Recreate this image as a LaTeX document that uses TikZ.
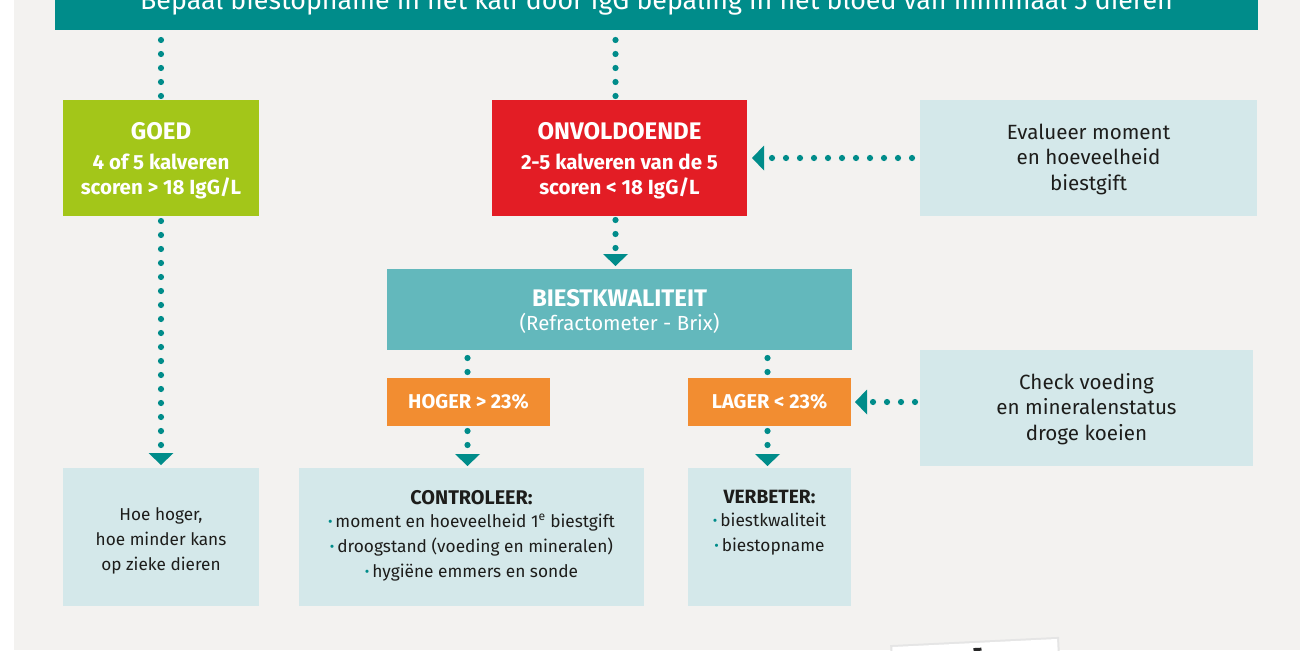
\documentclass[tikz,border=0pt]{standalone}
\usepackage{fontspec}
\setmainfont{Fira Sans}
\usetikzlibrary{arrows.meta,calc}
\definecolor{bg}{HTML}{F3F2F0}
\definecolor{tealdark}{HTML}{008C8A}
\definecolor{goedgreen}{HTML}{A3C619}
\definecolor{onvred}{HTML}{E31D25}
\definecolor{lightbox}{HTML}{D4E8EA}
\definecolor{midteal}{HTML}{63B8BC}
\definecolor{orangebox}{HTML}{F28D31}
\definecolor{darktext}{HTML}{1D1D1B}
\newcommand{\mybullet}{{\color{tealdark}\raisebox{0.5pt}{\scalebox{0.8}{•}}}\,}
\begin{document}
\begin{tikzpicture}[x=1pt,y=-1pt,
  box/.style={rectangle, inner sep=0pt, outer sep=0pt, align=center},
  headbox/.style={box, text=white, font=\bfseries\fontsize{20.5}{25}\selectfont},
  infobox/.style={box, fill=lightbox, text=darktext, font=\fontsize{20.6}{25.5}\selectfont},
  listtext/.style={box, anchor=north, text=darktext, font=\fontsize{17.3}{25}\selectfont},
  dotline/.style={draw=tealdark, line width=6.2pt, line cap=round, dash pattern=on 0pt off 14pt},
  arrowdots/.style={dotline, -{Triangle[length=12pt,width=25pt,line width=0pt]}}]
\useasboundingbox (0,0) rectangle (1300,650);
\fill[white] (0,0) rectangle (1300,650);
\fill[bg] (14,0) rectangle (1300,650);

% top bar
\node[box, fill=tealdark, minimum width=1203pt, minimum height=50pt] (bar) at (656.5,5) {};
\node[box, anchor=base, text=white, font=\fontsize{26.8}{30}\selectfont] (bartext) at (656.5,10)
  {Bepaal biestopname in het kalf door IgG bepaling in het bloed van minimaal 5 dieren};

% first row
\node[headbox, fill=goedgreen, minimum width=196pt, minimum height=116pt] (goed) at (161,158)
  {\rule{0pt}{23pt}{\fontsize{24}{25}\selectfont GOED}\\[5pt]4 of 5 kalveren\\scoren > 18 IgG/L};
\node[headbox, fill=onvred, minimum width=255pt, minimum height=116pt] (onv) at (619.5,158)
  {\rule{0pt}{23pt}{\fontsize{24}{25}\selectfont ONVOLDOENDE}\\[5pt]2-5 kalveren van de 5\\scoren < 18 IgG/L};
\node[infobox, minimum width=337pt, minimum height=116pt] (eval) at (1088.5,158)
  {\rule{0pt}{18pt}Evalueer moment\\en hoeveelheid\\biestgift};

% second row
\node[box, fill=midteal, text=white, minimum width=465pt, minimum height=81pt,
  font=\fontsize{20.4}{24}\selectfont] (biest) at (619.5,309.5)
  {\rule{0pt}{20pt}{\bfseries\fontsize{24}{24}\selectfont BIESTKWALITEIT}\\(Refractometer - Brix)};
\node[headbox, fill=orangebox, minimum width=163pt, minimum height=48pt, font=\bfseries\fontsize{20}{24}\selectfont] (hoger) at (468.5,402) {HOGER > 23\%};
\node[headbox, fill=orangebox, minimum width=163pt, minimum height=48pt, font=\bfseries\fontsize{20}{24}\selectfont] (lager) at (769.5,402) {LAGER < 23\%};
\node[infobox, minimum width=333pt, minimum height=116pt] (check) at (1086.5,408)
  {\rule{0pt}{18pt}Check voeding\\en mineralenstatus\\droge koeien};

% bottom row
\node[infobox, minimum width=196pt, minimum height=138pt, font=\fontsize{17.2}{25}\selectfont] (hoe) at (161,537)
  {\rule{0pt}{21pt}Hoe hoger,\\hoe minder kans\\op zieke dieren};
\node[box, fill=lightbox, minimum width=345pt, minimum height=138pt] (contr) at (471.5,537) {};
\node[box, fill=lightbox, minimum width=163pt, minimum height=138pt] (verb) at (769.5,537) {};
\node[listtext] (contrtext) at ($(contr.north)+(0,22)$)
  {{\bfseries\fontsize{19.8}{25}\selectfont CONTROLEER:}\\[-2pt]\mybullet moment en hoeveelheid 1\textsuperscript{e} biestgift\\
   \mybullet droogstand (voeding en mineralen)\\\mybullet hygiëne emmers en sonde};
\node[listtext] (verbtext) at ($(verb.north)+(0,22)$)
  {{\bfseries\fontsize{19.2}{25}\selectfont VERBETER:}\\[-2pt]\mybullet biestkwaliteit\\\mybullet biestopname};

% connectors
\draw[dotline] ($(goed.north |- bar.south)+(0,10)$) -- ($(goed.north)+(0,-3)$);
\draw[dotline] ($(onv.north |- bar.south)+(-4,10)$) -- ($(onv.north)+(-4,-3)$);
\draw[arrowdots] ($(goed.south)+(0,5)$) -- ($(hoe.north)+(0,-3)$);
\draw[arrowdots] ($(onv.south)+(-4,4)$) -- ($(biest.north)+(-4,-3)$);
\draw[arrowdots] ($(eval.west)+(-8,0)$) -- ($(onv.east)+(5,0)$);
\draw[dotline] ($(hoger.north |- biest.south)+(-1,8)$) -- ($(hoger.north)+(-1,-4)$);
\draw[dotline] ($(lager.north |- biest.south)+(-2,8)$) -- ($(lager.north)+(-2,-4)$);
\draw[arrowdots] ($(hoger.south)+(-1,5)$) -- ($(contr.north -| hoger.south)+(-1,-2)$);
\draw[arrowdots] ($(lager.south)+(-2,5)$) -- ($(verb.north)+(-2,-2)$);
\draw[arrowdots] ($(check.west |- lager.east)+(-5,0)$) -- ($(lager.east)+(4,0)$);

% card at the bottom edge
\begin{scope}[rotate around={2.8:(975,660)}]
  \fill[black!10] (891,641) rectangle (1060,680);
  \fill[white] (893,643) rectangle (1058,680);
  \fill[black!85] (974,648) rectangle (982,651);
\end{scope}
\end{tikzpicture}
\end{document}
